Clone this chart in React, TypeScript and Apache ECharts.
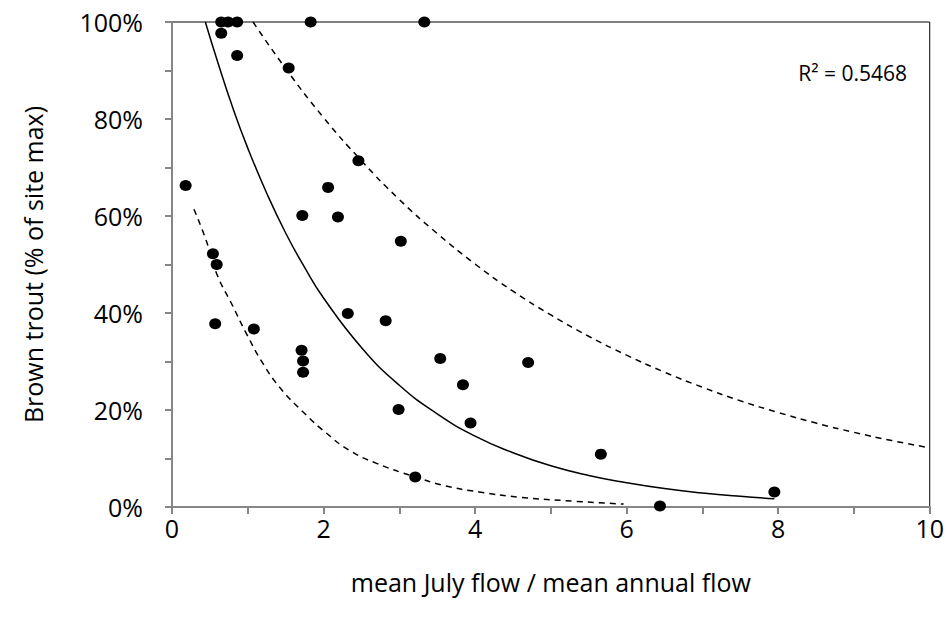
import React, { useEffect, useRef } from "react";
import * as echarts from "echarts";

// Observed points: [flow ratio, brown trout % of site max]
const flowRatio = [
  0.65, 0.74, 0.86, 1.83, 3.33, 0.65, 0.86, 1.54, 2.46, 0.18, 2.06, 1.72, 2.19,
  3.02, 0.54, 0.59, 0.57, 1.08, 1.71, 1.73, 1.73, 2.32, 2.82, 3.54, 2.99, 3.21,
  4.70, 3.84, 3.94, 5.66, 7.95, 6.44,
];
const troutPct = [
  100, 100, 100, 100, 100, 97.7, 93.1, 90.5, 71.4, 66.3, 65.9, 60.1, 59.8, 54.8,
  52.2, 50.0, 37.8, 36.7, 32.3, 30.1, 27.8, 39.9, 38.4, 30.6, 20.1, 6.2, 29.8,
  25.2, 17.3, 10.9, 3.1, 0.2,
];

// Fitted curve (solid)
const fitX = [0.44, 0.6, 0.8, 1.0, 1.25, 1.5, 1.75, 2.0, 2.5, 3.0, 3.5, 4.0, 4.5, 5.0, 5.5, 6.0, 6.5, 7.0, 7.5, 7.95];
const fitY = [100, 91.9, 82.4, 74.0, 64.7, 56.5, 49.4, 43.1, 32.9, 25.1, 19.2, 14.6, 11.2, 8.5, 6.5, 5.0, 3.8, 2.9, 2.2, 1.7];

// Upper dashed bound
const upperX = [1.07, 1.5, 2.0, 2.5, 3.0, 3.5, 4.0, 4.5, 5.0, 5.5, 6.0, 6.5, 7.0, 7.5, 8.0, 8.5, 9.0, 9.5, 10.0];
const upperY = [100, 90.4, 80.3, 71.4, 63.4, 56.4, 50.1, 44.5, 39.6, 35.2, 31.3, 27.8, 24.7, 21.9, 19.5, 17.3, 15.4, 13.7, 12.2];

// Lower dashed bound
const lowerX = [0.29, 0.45, 0.59, 0.8, 0.98, 1.2, 1.42, 1.73, 2.04, 2.34, 2.7, 3.21, 3.6, 4.05, 4.6, 5.3, 5.96];
const lowerY = [61.4, 55, 48.1, 41.5, 35.8, 29.6, 24.7, 19.6, 15.2, 11.7, 9.0, 6.2, 4.4, 3.1, 2.0, 1.2, 0.6];

const xTitle = "mean July flow / mean annual flow";
const yTitle = "Brown trout (% of site max)";
const r2Text = "R² = 0.5468";

const FONT = "Open Sans";

const zip = (xs: number[], ys: number[]) => xs.map((x, i) => [x, ys[i]]);

export default function App() {
  const ref = useRef<HTMLDivElement>(null);
  useEffect(() => {
    if (!ref.current) return;
    const chart = echarts.init(ref.current, null, { renderer: "svg" });
    const axisGray = "#868686";
    chart.setOption({
      animation: false,
      backgroundColor: "#fff",
      grid: {
        left: 172,
        right: 15,
        top: 22,
        bottom: 117,
        show: true,
        borderColor: "#000",
        borderWidth: 1,
        backgroundColor: "transparent",
      },
      xAxis: {
        type: "value",
        min: 0,
        max: 10,
        interval: 1,
        name: xTitle,
        nameLocation: "middle",
        nameGap: 62,
        nameTextStyle: { fontFamily: FONT, fontSize: 25, color: "#000" },
        axisLine: { show: true, lineStyle: { color: axisGray, width: 2 } },
        axisTick: { show: true, length: 7, lineStyle: { color: axisGray, width: 2 } },
        axisLabel: {
          fontFamily: FONT,
          fontSize: 25,
          color: "#000",
          margin: 8,
          formatter: (v: number) => (v % 2 === 0 ? String(v) : ""),
        },
        splitLine: { show: false },
      },
      yAxis: {
        type: "value",
        min: 0,
        max: 100,
        interval: 10,
        name: yTitle,
        nameLocation: "middle",
        nameGap: 127,
        nameTextStyle: { fontFamily: FONT, fontSize: 25, color: "#000" },
        axisLine: { show: true, lineStyle: { color: axisGray, width: 2 } },
        axisTick: { show: true, length: 7, lineStyle: { color: axisGray, width: 2 } },
        axisLabel: {
          fontFamily: FONT,
          fontSize: 25,
          color: "#000",
          margin: 29,
          formatter: (v: number) => (v % 20 === 0 ? v + "%" : ""),
        },
        splitLine: { show: false },
      },
      graphic: [
        {
          type: "text",
          right: 40,
          top: 62,
          style: { text: r2Text, fontFamily: FONT, fontSize: 21, fill: "#000" },
        },
      ],
      series: [
        {
          type: "line",
          data: zip(upperX, upperY),
          smooth: true,
          showSymbol: false,
          lineStyle: { color: "#000", width: 1.5, type: [6, 5] },
          z: 2,
        },
        {
          type: "line",
          data: zip(lowerX, lowerY),
          smooth: true,
          showSymbol: false,
          lineStyle: { color: "#000", width: 1.5, type: [6, 5] },
          z: 2,
        },
        {
          type: "line",
          data: zip(fitX, fitY),
          smooth: true,
          showSymbol: false,
          lineStyle: { color: "#000", width: 1.5 },
          z: 2,
        },
        {
          type: "scatter",
          data: zip(flowRatio, troutPct),
          symbol: "circle",
          symbolSize: [12, 11],
          itemStyle: { color: "#000", opacity: 1 },
          clip: false,
          z: 3,
        },
      ],
    });
    return () => chart.dispose();
  }, []);
  return (
    <div
      ref={ref}
      style={{ position: "absolute", left: 0, top: 0, width: 947, height: 624 }}
    />
  );
}
